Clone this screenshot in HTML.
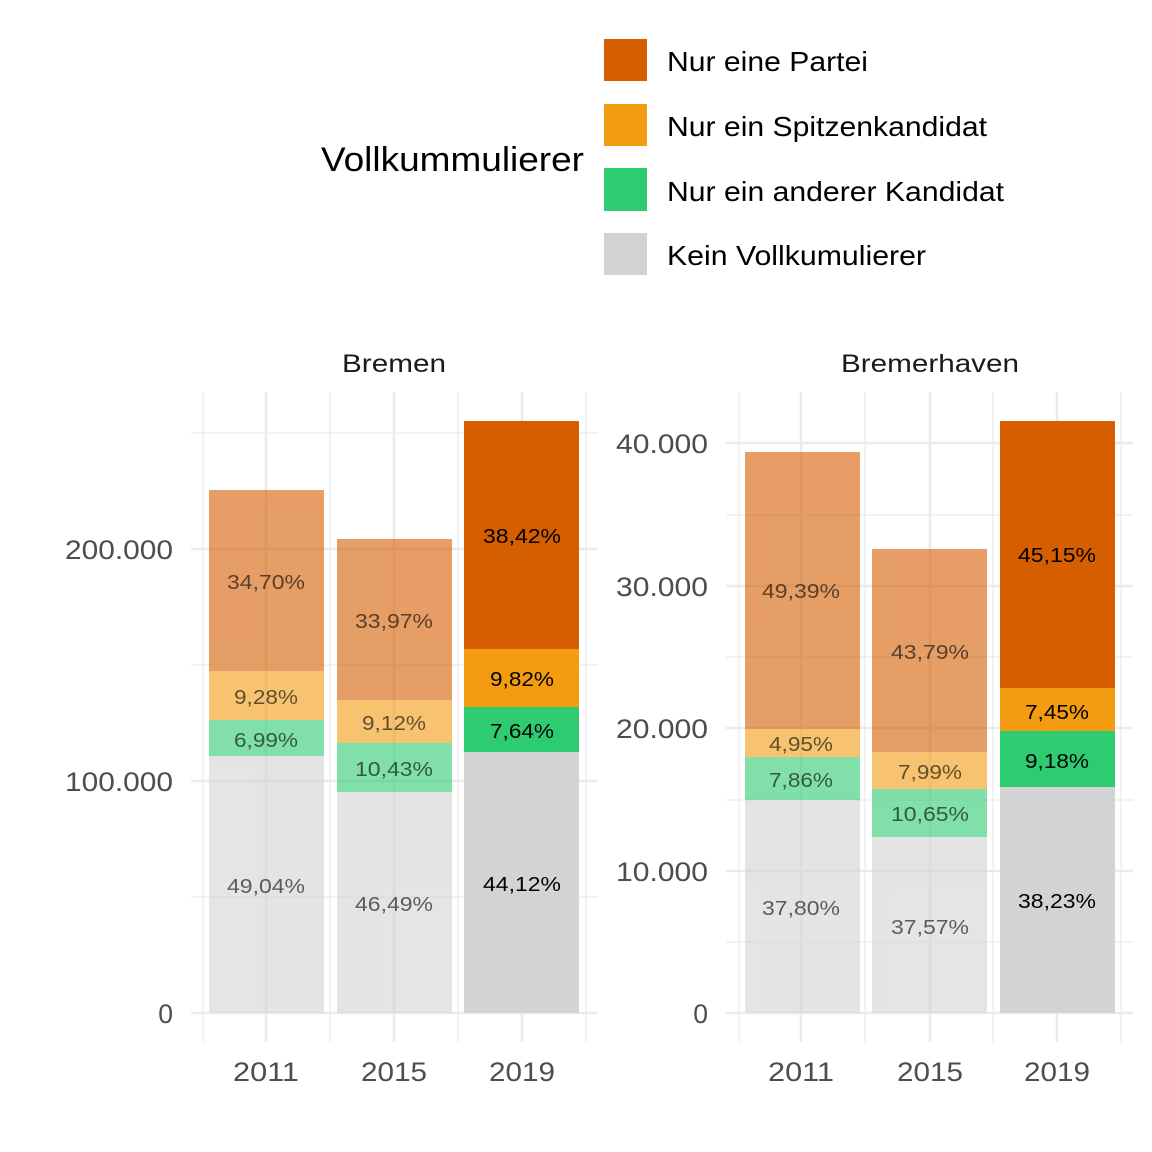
<!DOCTYPE html>
<html><head><meta charset="utf-8"><style>body{margin:0;background:#fff}svg{display:block}</style></head><body>
<svg width="1152" height="1152" viewBox="0 0 1152 1152" xmlns="http://www.w3.org/2000/svg" font-family="Liberation Sans, sans-serif">
<rect width="1152" height="1152" fill="#fff"/>
<text x="321" y="171" font-size="34" fill="#000" textLength="263" lengthAdjust="spacingAndGlyphs">Vollkummulierer</text>
<rect x="604" y="39" width="43" height="42" fill="#D55E00"/>
<rect x="604" y="104" width="43" height="42" fill="#F39C12"/>
<rect x="604" y="168" width="43" height="43" fill="#2ECC71"/>
<rect x="604" y="233" width="43" height="42" fill="#D3D3D3"/>
<g font-size="27.5" fill="#000" lengthAdjust="spacingAndGlyphs">
<text x="667" y="71" textLength="201" lengthAdjust="spacingAndGlyphs">Nur eine Partei</text>
<text x="667" y="136" textLength="320" lengthAdjust="spacingAndGlyphs">Nur ein Spitzenkandidat</text>
<text x="667" y="201" textLength="337" lengthAdjust="spacingAndGlyphs">Nur ein anderer Kandidat</text>
<text x="667" y="265" textLength="259" lengthAdjust="spacingAndGlyphs">Kein Vollkumulierer</text>
</g>
<g font-size="25" fill="#1a1a1a" text-anchor="middle">
<text x="394" y="372" textLength="104" lengthAdjust="spacingAndGlyphs">Bremen</text>
<text x="930" y="372" textLength="178" lengthAdjust="spacingAndGlyphs">Bremerhaven</text>
</g>
<g stroke="#ebebeb">
<g stroke-width="1.3">
<line x1="191" x2="598" y1="433" y2="433"/><line x1="191" x2="598" y1="665" y2="665"/><line x1="191" x2="598" y1="897" y2="897"/>
<line x1="203" x2="203" y1="392" y2="1042"/><line x1="330" x2="330" y1="392" y2="1042"/><line x1="458" x2="458" y1="392" y2="1042"/><line x1="586" x2="586" y1="392" y2="1042"/>
<line x1="726" x2="1133" y1="942" y2="942"/><line x1="726" x2="1133" y1="800" y2="800"/><line x1="726" x2="1133" y1="657" y2="657"/><line x1="726" x2="1133" y1="515" y2="515"/>
<line x1="739" x2="739" y1="392" y2="1042"/><line x1="865" x2="865" y1="392" y2="1042"/><line x1="993" x2="993" y1="392" y2="1042"/><line x1="1121" x2="1121" y1="392" y2="1042"/>
</g>
<g stroke-width="2.6">
<line x1="191" x2="598" y1="549" y2="549"/><line x1="191" x2="598" y1="781" y2="781"/><line x1="191" x2="598" y1="1013" y2="1013"/>
<line x1="266" x2="266" y1="392" y2="1042"/><line x1="394" x2="394" y1="392" y2="1042"/><line x1="522" x2="522" y1="392" y2="1042"/>
<line x1="726" x2="1133" y1="443" y2="443"/><line x1="726" x2="1133" y1="586" y2="586"/><line x1="726" x2="1133" y1="728" y2="728"/><line x1="726" x2="1133" y1="871" y2="871"/><line x1="726" x2="1133" y1="1013" y2="1013"/>
<line x1="801" x2="801" y1="392" y2="1042"/><line x1="930" x2="930" y1="392" y2="1042"/><line x1="1057" x2="1057" y1="392" y2="1042"/>
</g>
</g>
<g opacity="0.6">
<rect x="209" y="490" width="115" height="181" fill="#D55E00"/>
<rect x="209" y="671" width="115" height="49" fill="#F39C12"/>
<rect x="209" y="720" width="115" height="36" fill="#2ECC71"/>
<rect x="209" y="756" width="115" height="257" fill="#D3D3D3"/>
<rect x="337" y="539" width="115" height="161" fill="#D55E00"/>
<rect x="337" y="700" width="115" height="43" fill="#F39C12"/>
<rect x="337" y="743" width="115" height="49" fill="#2ECC71"/>
<rect x="337" y="792" width="115" height="221" fill="#D3D3D3"/>
<rect x="745" y="452" width="115" height="277" fill="#D55E00"/>
<rect x="745" y="729" width="115" height="28" fill="#F39C12"/>
<rect x="745" y="757" width="115" height="43" fill="#2ECC71"/>
<rect x="745" y="800" width="115" height="213" fill="#D3D3D3"/>
<rect x="872" y="549" width="115" height="203" fill="#D55E00"/>
<rect x="872" y="752" width="115" height="37" fill="#F39C12"/>
<rect x="872" y="789" width="115" height="48" fill="#2ECC71"/>
<rect x="872" y="837" width="115" height="176" fill="#D3D3D3"/>
</g>
<rect x="464" y="421" width="115" height="228" fill="#D55E00"/>
<rect x="464" y="649" width="115" height="58" fill="#F39C12"/>
<rect x="464" y="707" width="115" height="45" fill="#2ECC71"/>
<rect x="464" y="752" width="115" height="261" fill="#D3D3D3"/>
<rect x="1000" y="421" width="115" height="267" fill="#D55E00"/>
<rect x="1000" y="688" width="115" height="43" fill="#F39C12"/>
<rect x="1000" y="731" width="115" height="56" fill="#2ECC71"/>
<rect x="1000" y="787" width="115" height="226" fill="#D3D3D3"/>
<g font-size="20" text-anchor="middle">
<g fill="#000" opacity="0.6">
<text x="266" y="589" textLength="78" lengthAdjust="spacingAndGlyphs">34,70%</text><text x="266" y="704" textLength="64" lengthAdjust="spacingAndGlyphs">9,28%</text><text x="266" y="747" textLength="64" lengthAdjust="spacingAndGlyphs">6,99%</text><text x="266" y="893" textLength="78" lengthAdjust="spacingAndGlyphs">49,04%</text>
<text x="394" y="628" textLength="78" lengthAdjust="spacingAndGlyphs">33,97%</text><text x="394" y="730" textLength="64" lengthAdjust="spacingAndGlyphs">9,12%</text><text x="394" y="776" textLength="78" lengthAdjust="spacingAndGlyphs">10,43%</text><text x="394" y="911" textLength="78" lengthAdjust="spacingAndGlyphs">46,49%</text>
<text x="801" y="598" textLength="78" lengthAdjust="spacingAndGlyphs">49,39%</text><text x="801" y="751" textLength="64" lengthAdjust="spacingAndGlyphs">4,95%</text><text x="801" y="787" textLength="64" lengthAdjust="spacingAndGlyphs">7,86%</text><text x="801" y="915" textLength="78" lengthAdjust="spacingAndGlyphs">37,80%</text>
<text x="930" y="659" textLength="78" lengthAdjust="spacingAndGlyphs">43,79%</text><text x="930" y="779" textLength="64" lengthAdjust="spacingAndGlyphs">7,99%</text><text x="930" y="821" textLength="78" lengthAdjust="spacingAndGlyphs">10,65%</text><text x="930" y="934" textLength="78" lengthAdjust="spacingAndGlyphs">37,57%</text>
</g>
<g fill="#000">
<text x="522" y="543" textLength="78" lengthAdjust="spacingAndGlyphs">38,42%</text><text x="522" y="686" textLength="64" lengthAdjust="spacingAndGlyphs">9,82%</text><text x="522" y="738" textLength="64" lengthAdjust="spacingAndGlyphs">7,64%</text><text x="522" y="891" textLength="78" lengthAdjust="spacingAndGlyphs">44,12%</text>
<text x="1057" y="562" textLength="78" lengthAdjust="spacingAndGlyphs">45,15%</text><text x="1057" y="719" textLength="64" lengthAdjust="spacingAndGlyphs">7,45%</text><text x="1057" y="768" textLength="64" lengthAdjust="spacingAndGlyphs">9,18%</text><text x="1057" y="908" textLength="78" lengthAdjust="spacingAndGlyphs">38,23%</text>
</g>
</g>
<g font-size="26.5" fill="#4d4d4d" text-anchor="end">
<text x="173" y="559" textLength="108" lengthAdjust="spacingAndGlyphs">200.000</text><text x="173" y="791" textLength="108" lengthAdjust="spacingAndGlyphs">100.000</text><text x="173" y="1023">0</text>
<text x="708" y="453" textLength="92" lengthAdjust="spacingAndGlyphs">40.000</text><text x="708" y="596" textLength="92" lengthAdjust="spacingAndGlyphs">30.000</text><text x="708" y="738" textLength="92" lengthAdjust="spacingAndGlyphs">20.000</text><text x="708" y="881" textLength="92" lengthAdjust="spacingAndGlyphs">10.000</text><text x="708" y="1023">0</text>
</g>
<g font-size="26.5" fill="#4d4d4d" text-anchor="middle">
<text x="266" y="1081" textLength="66" lengthAdjust="spacingAndGlyphs">2011</text><text x="394" y="1081" textLength="66" lengthAdjust="spacingAndGlyphs">2015</text><text x="522" y="1081" textLength="66" lengthAdjust="spacingAndGlyphs">2019</text>
<text x="801" y="1081" textLength="66" lengthAdjust="spacingAndGlyphs">2011</text><text x="930" y="1081" textLength="66" lengthAdjust="spacingAndGlyphs">2015</text><text x="1057" y="1081" textLength="66" lengthAdjust="spacingAndGlyphs">2019</text>
</g>
</svg>
</body></html>
